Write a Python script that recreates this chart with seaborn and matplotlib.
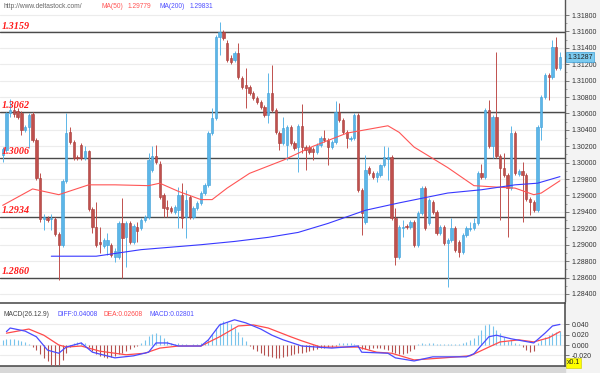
import numpy as np
import matplotlib
matplotlib.use('Agg')
import matplotlib.pyplot as plt
from matplotlib.patches import Rectangle
import seaborn as sns

# --- datos OHLC ---
opens = [1.3009, 1.3015, 1.3061, 1.3064, 1.3063, 1.3061, 1.3040, 1.3043, 1.3059, 1.3028,
         1.2981, 1.2931, 1.2933, 1.2931, 1.2931, 1.2913, 1.2900, 1.2978, 1.3037, 1.3025,
         1.3007, 1.3022, 1.3006, 1.3014, 1.2944, 1.2922, 1.2903, 1.2898, 1.2900, 1.2900,
         1.2885, 1.2885, 1.2926, 1.2909, 1.2926, 1.2903, 1.2922, 1.2920, 1.2930, 1.2934,
         1.2991, 1.3008, 1.2999, 1.2961, 1.2946, 1.2945, 1.2940, 1.2942, 1.2961, 1.2934,
         1.2958, 1.2934, 1.2945, 1.2951, 1.2963, 1.2973, 1.3036, 1.3054, 1.3153, 1.3159,
         1.3146, 1.3128, 1.3125, 1.3134, 1.3103, 1.3095, 1.3092, 1.3085, 1.3079, 1.3074,
         1.3068, 1.3058, 1.3085, 1.3064, 1.3036, 1.3024, 1.3022, 1.3043, 1.3024, 1.3019,
         1.3045, 1.3019, 1.3019, 1.3017, 1.3013, 1.3022, 1.3030, 1.3028, 1.3019, 1.3025,
         1.3062, 1.3052, 1.3037, 1.3029, 1.3030, 1.3058, 1.2967, 1.2928, 1.2994, 1.2987,
         1.2983, 1.2985, 1.2997, 1.3004, 1.3007, 1.2933, 1.2885, 1.2920, 1.2923, 1.2922,
         1.2928, 1.2900, 1.2939, 1.2969, 1.2926, 1.2952, 1.2940, 1.2914, 1.2922, 1.2902,
         1.2906, 1.2920, 1.2903, 1.2891, 1.2912, 1.2919, 1.2920, 1.2926, 1.2987, 1.2983,
         1.3064, 1.3020, 1.3056, 1.3008, 1.2994, 1.2985, 1.2969, 1.3036, 1.2986, 1.2990,
         1.2985, 1.2956, 1.2952, 1.2942, 1.3043, 1.3080, 1.3107, 1.3104, 1.3141, 1.3115]
closes = [1.3017, 1.3061, 1.3064, 1.3059, 1.3056, 1.3040, 1.3043, 1.3058, 1.3028, 1.2981,
          1.2931, 1.2934, 1.2930, 1.2933, 1.2913, 1.2900, 1.2978, 1.3036, 1.3025, 1.3006,
          1.3006, 1.3006, 1.3014, 1.2944, 1.2922, 1.2900, 1.2901, 1.2906, 1.2906, 1.2887,
          1.2892, 1.2926, 1.2908, 1.2926, 1.2903, 1.2923, 1.2917, 1.2930, 1.2934, 1.3003,
          1.3008, 1.3001, 1.2958, 1.2945, 1.2944, 1.2941, 1.2946, 1.2961, 1.2933, 1.2955,
          1.2934, 1.2945, 1.2951, 1.2963, 1.2973, 1.3036, 1.3054, 1.3153, 1.3159, 1.3152,
          1.3125, 1.3123, 1.3134, 1.3104, 1.3092, 1.3091, 1.3085, 1.3079, 1.3074, 1.3068,
          1.3058, 1.3085, 1.3064, 1.3037, 1.3024, 1.3042, 1.3043, 1.3024, 1.3018, 1.3045,
          1.3019, 1.3015, 1.3013, 1.3013, 1.3022, 1.3030, 1.3028, 1.3019, 1.3025, 1.3062,
          1.3052, 1.3037, 1.3030, 1.3030, 1.3058, 1.2967, 1.2939, 1.2991, 1.2987, 1.2983,
          1.2987, 1.2997, 1.3007, 1.3007, 1.2933, 1.2885, 1.2922, 1.2922, 1.2922, 1.2928,
          1.2900, 1.2939, 1.2969, 1.2920, 1.2955, 1.2940, 1.2914, 1.2922, 1.2902, 1.2906,
          1.2920, 1.2894, 1.2891, 1.2912, 1.2920, 1.2920, 1.2926, 1.2987, 1.2983, 1.3064,
          1.3020, 1.3056, 1.3008, 1.2994, 1.2985, 1.2969, 1.3036, 1.2987, 1.2990, 1.2985,
          1.2956, 1.2952, 1.2942, 1.3043, 1.3080, 1.3107, 1.3104, 1.3141, 1.3115, 1.3129]
highs = [1.3019, 1.3062, 1.3078, 1.3070, 1.3067, 1.3063, 1.3046, 1.3061, 1.3062, 1.3030,
         1.2987, 1.2937, 1.2935, 1.2937, 1.2934, 1.2915, 1.2980, 1.3061, 1.3043, 1.3028,
         1.3009, 1.3024, 1.3020, 1.3015, 1.2946, 1.2952, 1.2922, 1.2908, 1.2914, 1.2902,
         1.2896, 1.2929, 1.2957, 1.2929, 1.2929, 1.2925, 1.2928, 1.2933, 1.2936, 1.3012,
         1.3020, 1.3022, 1.3002, 1.2963, 1.2955, 1.2947, 1.2948, 1.2970, 1.2975, 1.2967,
         1.2961, 1.2947, 1.2953, 1.2965, 1.2975, 1.3039, 1.3067, 1.3156, 1.3171, 1.3162,
         1.3150, 1.3131, 1.3136, 1.3146, 1.3106, 1.3115, 1.3095, 1.3087, 1.3081, 1.3076,
         1.3070, 1.3109, 1.3119, 1.3067, 1.3039, 1.3056, 1.3046, 1.3046, 1.3026, 1.3047,
         1.3071, 1.3022, 1.3022, 1.3019, 1.3024, 1.3032, 1.3040, 1.3030, 1.3028, 1.3075,
         1.3073, 1.3054, 1.3040, 1.3032, 1.3061, 1.3061, 1.2969, 1.3009, 1.2996, 1.2990,
         1.2990, 1.2999, 1.3020, 1.3019, 1.3009, 1.2945, 1.2924, 1.2930, 1.2925, 1.2930,
         1.2930, 1.2941, 1.2972, 1.2972, 1.2957, 1.2955, 1.2942, 1.2924, 1.2924, 1.2908,
         1.2933, 1.2923, 1.2906, 1.2914, 1.2923, 1.2928, 1.2933, 1.2990, 1.2999, 1.3067,
         1.3076, 1.3058, 1.3135, 1.3011, 1.3012, 1.2987, 1.3045, 1.3039, 1.2992, 1.3001,
         1.2987, 1.2958, 1.2955, 1.3046, 1.3082, 1.3109, 1.3109, 1.3150, 1.3153, 1.3135]
lows = [1.3001, 1.3013, 1.3056, 1.3056, 1.3053, 1.3034, 1.3037, 1.3018, 1.3025, 1.2979,
        1.2928, 1.2918, 1.2928, 1.2918, 1.2911, 1.2857, 1.2897, 1.2975, 1.3023, 1.3003,
        1.3003, 1.3003, 1.3003, 1.2941, 1.2914, 1.2897, 1.2890, 1.2896, 1.2887, 1.2885,
        1.2879, 1.2883, 1.2859, 1.2873, 1.2901, 1.2901, 1.2903, 1.2918, 1.2928, 1.2931,
        1.2989, 1.2998, 1.2956, 1.2934, 1.2934, 1.2939, 1.2937, 1.2920, 1.2920, 1.2908,
        1.2931, 1.2931, 1.2942, 1.2948, 1.2961, 1.2970, 1.3034, 1.3052, 1.3131, 1.3150,
        1.3123, 1.3120, 1.3123, 1.3102, 1.3090, 1.3067, 1.3082, 1.3076, 1.3071, 1.3065,
        1.3056, 1.3048, 1.3062, 1.3035, 1.3015, 1.3022, 1.3003, 1.3022, 1.3015, 1.2989,
        1.3012, 1.2991, 1.3011, 1.3003, 1.3011, 1.3019, 1.3025, 1.2997, 1.3017, 1.3023,
        1.3050, 1.3035, 1.3018, 1.3026, 1.3028, 1.2964, 1.2912, 1.2925, 1.2985, 1.2980,
        1.2976, 1.2983, 1.2995, 1.2979, 1.2930, 1.2875, 1.2883, 1.2909, 1.2919, 1.2919,
        1.2897, 1.2897, 1.2936, 1.2918, 1.2924, 1.2937, 1.2912, 1.2912, 1.2900, 1.2848,
        1.2903, 1.2891, 1.2885, 1.2889, 1.2909, 1.2917, 1.2918, 1.2924, 1.2980, 1.2980,
        1.3018, 1.3006, 1.3006, 1.2930, 1.2983, 1.2909, 1.2967, 1.2985, 1.2984, 1.2928,
        1.2953, 1.2936, 1.2940, 1.2940, 1.3028, 1.3078, 1.3076, 1.3102, 1.3113, 1.3113]

# medias moviles (puntos leidos a lo largo de la curva)
ma50_idx = [0, 8, 15, 23, 30, 39, 42, 47, 53, 56, 60, 66, 75, 83, 92, 103, 106, 110,
            119, 126, 133, 137, 142, 144, 149]
ma50_val = [1.2948, 1.2968, 1.2961, 1.2973, 1.2973, 1.2972, 1.2975, 1.2965, 1.2955, 1.2955,
            1.2969, 1.2987, 1.3003, 1.3020, 1.3036, 1.3045, 1.3037, 1.3019, 1.2994, 1.2972,
            1.2970, 1.2969, 1.2961, 1.2963, 1.2978]
ma200_idx = [13, 25, 37, 53, 62, 71, 79, 87, 92, 97, 106, 119, 128, 137, 143, 149]
ma200_val = [1.2886, 1.2886, 1.2894, 1.2900, 1.2904, 1.2909, 1.2915, 1.2926, 1.2934, 1.2942,
             1.2951, 1.2963, 1.2967, 1.2973, 1.2975, 1.2983]

# niveles horizontales
levels = [1.3159, 1.3062, 1.3006, 1.2934, 1.2860]
last_price = 1.31287

# --- MACD ---
diff_idx = [1, 2, 6, 9, 12, 15, 17, 21, 24, 30, 35, 39, 41, 44, 47, 53, 55, 58, 62, 65,
            69, 72, 75, 80, 88, 95, 96, 103, 105, 110, 115, 124, 126, 130, 132, 136, 142,
            145, 147, 149]
diff_val = [0.026, 0.033, 0.027, 0.016, -0.010, -0.016, -0.004, 0.004, -0.014, -0.025,
            -0.021, -0.014, 0.004, 0.004, -0.002, -0.002, 0.010, 0.039, 0.049, 0.043,
            0.031, 0.019, 0.010, -0.002, -0.006, -0.002, -0.014, -0.016, -0.025, -0.031,
            -0.023, -0.023, -0.017, 0.016, 0.019, 0.012, 0.004, 0.023, 0.037, 0.040]
dea_idx = [1, 7, 11, 15, 17, 21, 26, 33, 38, 42, 47, 53, 58, 63, 67, 71, 77, 80, 85, 95,
           100, 104, 110, 118, 125, 130, 133, 138, 142, 146, 149]
dea_val = [0.023, 0.031, 0.019, 0.000, -0.004, -0.002, -0.012, -0.019, -0.016, -0.006,
           -0.002, -0.002, 0.016, 0.037, 0.039, 0.033, 0.016, 0.008, -0.004, -0.004,
           -0.014, -0.016, -0.029, -0.025, -0.021, -0.004, 0.006, 0.010, 0.006, 0.014, 0.026]
macd_hist = [0.010, 0.011, 0.012, 0.011, 0.010, 0.008, 0.005, 0.002,
             -0.004, -0.010, -0.018, -0.026, -0.032, -0.038, -0.040, -0.039, -0.030,
             -0.015, -0.003, 0.004, 0.006, 0.006, 0.004,
             -0.004, -0.012, -0.018, -0.022, -0.024, -0.025, -0.024, -0.022, -0.018, -0.015,
             -0.012, -0.008, -0.004, -0.002,
             0.004, 0.010, 0.018, 0.022, 0.024, 0.020, 0.014, 0.008,
             0.004, 0.002, 0.003, 0.001, 0.002, 0.000, 0.001, 0.002, 0.004, 0.006,
             0.012, 0.022, 0.034, 0.042, 0.046, 0.044, 0.040, 0.034, 0.026, 0.016, 0.008,
             -0.002, -0.008, -0.012, -0.016, -0.019, -0.022, -0.024, -0.025, -0.025, -0.024,
             -0.022, -0.020, -0.018, -0.016,
             -0.015, -0.014, -0.012, -0.010, -0.008,
             -0.006, -0.005, -0.004, -0.003, -0.001,
             0.003, 0.004, 0.003, 0.004, 0.002,
             -0.004, -0.008, -0.008, -0.007, -0.006, -0.005, -0.006,
             -0.008, -0.010, -0.013, -0.016, -0.017, -0.018, -0.016, -0.012, -0.008,
             0.001, 0.003, 0.002, 0.004, 0.003, 0.002, 0.001, 0.001, 0.001, 0.002, 0.001,
             0.002, 0.004, 0.006, 0.010, 0.014, 0.020, 0.030, 0.038, 0.040, 0.036,
             0.030, 0.024, 0.016, 0.008, 0.010, 0.004, 0.002,
             -0.004, -0.010, -0.014, -0.012,
             0.004, 0.010, 0.016, 0.020, 0.024, 0.026, 0.028]

# --- estilo ---
sns.set_style('white')
plt.rcParams['font.family'] = ['Liberation Sans', 'DejaVu Sans']

W, H = 600, 373
def fx(x):
    return x / W
def fy(y):
    return 1 - y / H

fig = plt.figure(figsize=(6, 3.73), dpi=100)
# fondo gris del margen derecho y banda inferior (detras de todo)
fig.patches.append(Rectangle((fx(565), 0), 1 - fx(565), 1, transform=fig.transFigure,
                             color='#f3f3f3', zorder=-10))
fig.patches.append(Rectangle((0, 0), fx(565), fy(366), transform=fig.transFigure,
                             color='#d8d8d8', zorder=-10))

n = len(closes)
idx = np.arange(n)
xlim = (-0.72, 150.35)
UP_FILL, UP_EDGE = '#5cb6e8', '#3c9ed8'
DN_FILL, DN_EDGE = '#c0504d', '#a53b38'

# --- panel de precios ---
ax = fig.add_axes([0, fy(301), fx(565), fy(0) - fy(301)])
ax.set_xlim(*xlim)
ax.set_ylim(1.28314, 1.31983)
ax.set_facecolor('white')

o = np.array(opens); c = np.array(closes)
up = c >= o
ax.vlines(idx, lows, highs, colors=np.where(up, UP_FILL, DN_FILL), lw=0.7, zorder=3)
body_h = np.maximum(np.abs(c - o), 0.00006)
ax.bar(idx, body_h, bottom=np.minimum(o, c), width=0.62,
       color=np.where(up, UP_FILL, DN_FILL), edgecolor=np.where(up, UP_EDGE, DN_EDGE),
       lw=0.4, zorder=4)

sns.lineplot(x=ma50_idx, y=ma50_val, ax=ax, color='#ff5555', lw=0.8, zorder=5)
sns.lineplot(x=ma200_idx, y=ma200_val, ax=ax, color='#3838ff', lw=0.8, zorder=5)

for lvl in levels:
    ax.axhline(lvl, color='#4a4a4a', lw=1.0, zorder=2)
    ax.text(0.004, lvl + 0.0002, f'{lvl:.4f}', transform=ax.get_yaxis_transform(),
            ha='left', va='bottom', color='#ff1a1a', fontsize=7.3, fontweight='bold',
            fontstyle='italic', family='Liberation Serif', zorder=6)

ticks = np.arange(1.284, 1.3181, 0.002)
ax.set_yticks(ticks)
ax.set_yticks(np.arange(1.285, 1.318, 0.002), minor=True)
ax.set_yticklabels([f'{v:.5f}' for v in ticks])
ax.yaxis.tick_right()
ax.set_xticks([])
ax.grid(axis='y', which='major', color='#ececec', lw=0.8)
ax.set_axisbelow(True)
ax.tick_params(axis='y', which='major', length=3, width=0.6, color='#666',
               labelsize=5, labelcolor='#333', pad=1.5)
ax.tick_params(axis='y', which='minor', length=1.5, width=0.5, color='#888')
for side in ['left', 'top', 'bottom']:
    ax.spines[side].set_visible(False)
ax.spines['right'].set_color('#555')
ax.spines['right'].set_linewidth(1.0)

ax.text(1.004, last_price, f'{last_price:.5f}', transform=ax.get_yaxis_transform(),
        ha='left', va='center', fontsize=5, color='#222', clip_on=False, zorder=10,
        bbox=dict(boxstyle='square,pad=0.2', fc='#7ccbf0', ec='#3d9fd8', lw=0.5))

# --- panel MACD ---
ax2 = fig.add_axes([0, fy(366), fx(565), fy(303) - fy(366)])
ax2.set_xlim(*xlim)
ax2.set_ylim(-0.0408, 0.0816)
ax2.set_facecolor('white')
hist = np.array(macd_hist)
ax2.vlines(idx, 0, hist, colors=np.where(hist >= 0, '#78c4ec', '#b5504e'), lw=0.8, zorder=3)
sns.lineplot(x=dea_idx, y=dea_val, ax=ax2, color='#ff4a4a', lw=0.9, zorder=5)
sns.lineplot(x=diff_idx, y=diff_val, ax=ax2, color='#4a4aff', lw=0.9, zorder=6)

ax2.set_yticks([0.04, 0.02, 0.0, -0.02])
ax2.set_yticklabels(['0.040', '0.020', '0.000', '-0.020'])
ax2.yaxis.tick_right()
ax2.set_xticks([])
ax2.grid(axis='y', color='#ececec', lw=0.8)
ax2.set_axisbelow(True)
ax2.tick_params(axis='y', length=3, width=0.6, color='#666', labelsize=5,
                labelcolor='#333', pad=1.5)
ax2.spines['left'].set_visible(False)
for side in ['top', 'bottom', 'right']:
    ax2.spines[side].set_color('#444')
    ax2.spines[side].set_linewidth(1.1)

# --- textos de cabecera ---
hdr = dict(fontsize=4.8, va='center', ha='left')
fig.text(fx(3), fy(7), 'http://www.deltastock.com/', color='#666666', **hdr)
fig.text(fx(101), fy(7), 'MA(50)', color='#ff5555', **hdr)
fig.text(fx(128), fy(7), '1.29779', color='#ff5555', **hdr)
fig.text(fx(159), fy(7), 'MA(200)', color='#5050ff', **hdr)
fig.text(fx(190), fy(7), '1.29831', color='#5050ff', **hdr)

fig.text(fx(3), fy(315), 'MACD(26.12.9)', color='#444444', **hdr)
fig.text(fx(57), fy(315), 'DIFF:0.04008', color='#4a4aff', **hdr)
fig.text(fx(103), fy(315), 'DEA:0.02608', color='#ff4a4a', **hdr)
fig.text(fx(150), fy(315), 'MACD:0.02801', color='#5050ff', **hdr)

fig.text(fx(567), fy(363), 'x0.1', fontsize=5, color='#222', va='center', ha='left',
         bbox=dict(boxstyle='square,pad=0.15', fc='#ffff00', ec='#c8c800', lw=0.4))

fig.savefig('out.png', dpi=100)
